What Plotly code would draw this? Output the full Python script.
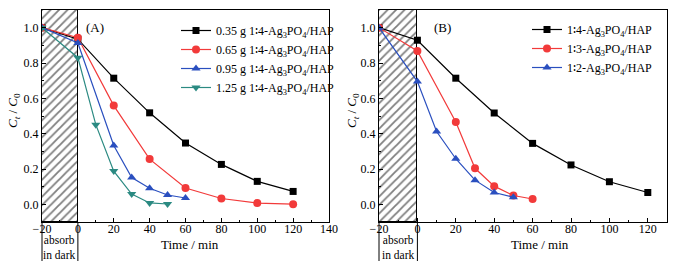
import plotly.graph_objects as go

# ---------------- data ----------------
# Panel A: different catalyst dosages
a_x_035 = [-20, 0, 20, 40, 60, 80, 100, 120]
a_y_035 = [1.0, 0.935, 0.714, 0.518, 0.347, 0.226, 0.130, 0.073]
a_x_065 = [-20, 0, 20, 40, 60, 80, 100, 120]
a_y_065 = [1.0, 0.943, 0.559, 0.256, 0.092, 0.033, 0.007, 0.001]
a_x_095 = [-20, 0, 20, 30, 40, 50, 60]
a_y_095 = [1.0, 0.913, 0.333, 0.152, 0.091, 0.053, 0.036]
a_x_125 = [-20, 0, 10, 20, 30, 40, 50]
a_y_125 = [1.0, 0.830, 0.451, 0.188, 0.058, 0.008, 0.002]

# Panel B: different Ag3PO4/HAP ratios
b_x_14 = [-20, 0, 20, 40, 60, 80, 100, 120]
b_y_14 = [1.0, 0.929, 0.714, 0.517, 0.345, 0.223, 0.128, 0.067]
b_x_13 = [-20, 0, 20, 30, 40, 50, 60]
b_y_13 = [1.0, 0.868, 0.466, 0.204, 0.103, 0.050, 0.030]
b_x_12 = [-20, 0, 10, 20, 30, 40, 50]
b_y_12 = [1.0, 0.695, 0.412, 0.258, 0.137, 0.067, 0.040]

names_a = ["0.35 g 1∶4-Ag<sub>3</sub>PO<sub>4</sub>/HAP",
           "0.65 g 1∶4-Ag<sub>3</sub>PO<sub>4</sub>/HAP",
           "0.95 g 1∶4-Ag<sub>3</sub>PO<sub>4</sub>/HAP",
           "1.25 g 1∶4-Ag<sub>3</sub>PO<sub>4</sub>/HAP"]
names_b = ["1∶4-Ag<sub>3</sub>PO<sub>4</sub>/HAP",
           "1∶3-Ag<sub>3</sub>PO<sub>4</sub>/HAP",
           "1∶2-Ag<sub>3</sub>PO<sub>4</sub>/HAP"]

dark_x0, dark_x1 = -20, 0
a_xrange = [-20, 140]
b_xrange = [-20, 130]
yrange = [-0.1, 1.1]

# ---------------- styling ----------------
FONT = "Liberation Serif"
BLACK = "#000000"
RED = "#f23a3a"
BLUE = "#2a4fbf"
TEAL = "#2b8a82"

W, H = 688, 274
a_dom = [42 / W, 329 / W]
b_dom = [379 / W, 667 / W]
y_dom = [(H - 222) / H, (H - 10) / H]

fig = go.Figure()

# hatched "absorb in dark" regions
for xa, ya in [("x", "y"), ("x2", "y2")]:
    fig.add_trace(go.Bar(
        x=[(dark_x0 + dark_x1) / 2], y=[yrange[1] - yrange[0]], base=[yrange[0]],
        width=[dark_x1 - dark_x0], xaxis=xa, yaxis=ya, showlegend=False,
        marker=dict(color="white", line=dict(color=BLACK, width=1),
                    pattern=dict(shape="/", fgcolor=BLACK, bgcolor="white",
                                 size=6, solidity=0.3)),
        hoverinfo="skip"))

def add_series(x, y, name, color, symbol, xa, ya, legend, size=7):
    fig.add_trace(go.Scatter(
        x=x, y=y, name=name, mode="lines+markers", xaxis=xa, yaxis=ya,
        legend=legend,
        line=dict(color=color, width=1.2),
        marker=dict(color=color, symbol=symbol, size=size)))

add_series(a_x_035, a_y_035, names_a[0], BLACK, "square", "x", "y", "legend", 7)
add_series(a_x_065, a_y_065, names_a[1], RED, "circle", "x", "y", "legend", 8)
add_series(a_x_095, a_y_095, names_a[2], BLUE, "triangle-up", "x", "y", "legend", 8)
add_series(a_x_125, a_y_125, names_a[3], TEAL, "triangle-down", "x", "y", "legend", 8)

add_series(b_x_14, b_y_14, names_b[0], BLACK, "square", "x2", "y2", "legend2", 7)
add_series(b_x_13, b_y_13, names_b[1], RED, "circle", "x2", "y2", "legend2", 8)
add_series(b_x_12, b_y_12, names_b[2], BLUE, "triangle-up", "x2", "y2", "legend2", 8)

axis_common = dict(showgrid=False, zeroline=False, showline=True, linecolor=BLACK,
                   linewidth=1, mirror=True, ticks="inside", ticklen=4,
                   tickcolor=BLACK, tickfont=dict(family=FONT, size=12, color=BLACK))
xminor = dict(dtick=10, ticks="inside", ticklen=2, tickcolor=BLACK)
yminor = dict(dtick=0.1, ticks="inside", ticklen=2, tickcolor=BLACK)

fig.update_layout(
    width=W, height=H, margin=dict(l=0, r=0, t=0, b=0, autoexpand=False),
    paper_bgcolor="white", plot_bgcolor="white", bargap=0,
    font=dict(family=FONT, size=12, color=BLACK),
    xaxis=dict(domain=a_dom, range=a_xrange, dtick=20, tick0=0, anchor="y",
               minor=xminor, ticklabelstandoff=-4, **axis_common),
    yaxis=dict(domain=y_dom, range=yrange, dtick=0.2, tick0=0, tickformat=".1f",
               anchor="x", minor=yminor, **axis_common),
    xaxis2=dict(domain=b_dom, range=b_xrange, dtick=20, tick0=0, anchor="y2",
                minor=xminor, ticklabelstandoff=-4, **axis_common),
    yaxis2=dict(domain=y_dom, range=yrange, dtick=0.2, tick0=0, tickformat=".1f",
                anchor="x2", minor=yminor, **axis_common),
    legend=dict(x=176 / W, y=(H - 16) / H, xanchor="left", yanchor="top",
                bgcolor="rgba(0,0,0,0)", font=dict(family=FONT, size=12, color=BLACK),
                itemwidth=30, tracegroupgap=0),
    legend2=dict(x=527 / W, y=(H - 15) / H, xanchor="left", yanchor="top",
                 bgcolor="rgba(0,0,0,0)", font=dict(family=FONT, size=12, color=BLACK),
                 itemwidth=30, tracegroupgap=0),
)

def A(**kw):
    base = dict(showarrow=False, xanchor="center", yanchor="middle")
    base.update(kw)
    return base

# annotations: panel labels, axis titles, absorb in dark
ann = []
for ref, lab, lx, tx in [("x", "(A)", 0.185, 190), ("x2", "(B)", 0.219, 540)]:
    ann.append(A(text=lab, xref=ref + " domain", yref="paper", x=lx, y=(H - 27) / H,
                 font=dict(size=13)))
    ann.append(A(text="Time / min", xref="paper", yref="paper", x=tx / W,
                 y=(H - 244) / H, font=dict(size=13)))
    ann.append(A(text="absorb<br>in dark", xref=ref, yref="paper",
                 x=(dark_x0 + dark_x1) / 2, y=(H - 247.5) / H,
                 font=dict(size=11.5), borderpad=0))

for xpix in [13, 352]:
    ann.append(A(text="<i>C</i><sub><i>t</i></sub> / <i>C</i><sub>0</sub>",
                 xref="paper", yref="paper", x=xpix / W, y=(H - 111) / H,
                 textangle=-90, font=dict(size=13)))
fig.update_layout(annotations=ann)

# vertical lines below axis bounding "absorb in dark"
shapes = []
for ref, rng in [("x", a_xrange), ("x2", b_xrange)]:
    for xv in (dark_x0, dark_x1):
        fx = (xv - rng[0]) / (rng[1] - rng[0])
        shapes.append(dict(type="line", xref=ref + " domain", yref="paper",
                           x0=fx, x1=fx, y0=y_dom[0], y1=(H - 261) / H,
                           line=dict(color=BLACK, width=1)))
fig.update_layout(shapes=shapes)

fig.write_html("out.html", config={"displayModeBar": False},
               post_script="document.body.style.margin='0';document.body.style.overflow='hidden';")
